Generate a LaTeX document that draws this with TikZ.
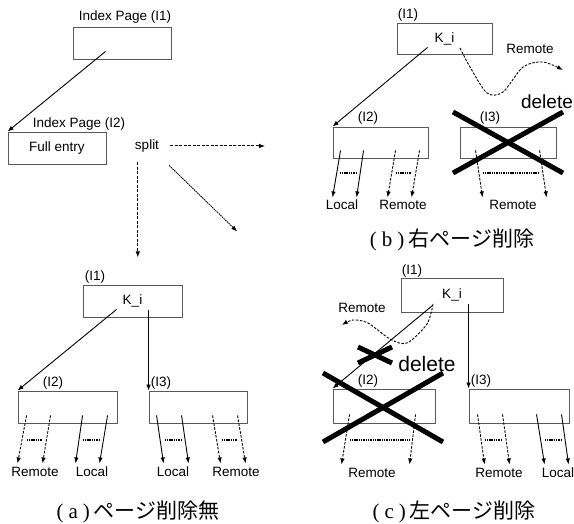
\documentclass[tikz,border=0pt]{standalone}
\usepackage{fontspec}
\setmainfont{Liberation Sans}
\newfontfamily\cjk{Noto Sans CJK JP}
\newfontfamily\capserif{Liberation Serif}
\newcommand\capltr[1]{{\capserif(\hspace{5pt}#1\hspace{5pt})}\hspace{4pt}}
\usetikzlibrary{arrows.meta}
\begin{document}
\begin{tikzpicture}[x=1pt,y=-1pt,
  page/.style={draw=black!65,line width=0.9pt,inner sep=0pt,font=\fontsize{13.5}{15}\selectfont},
  txt/.style={inner sep=0pt,font=\fontsize{13.5}{15}\selectfont},
  ptr/.style={-{Latex[length=6pt,width=4.5pt]},line width=0.9pt},
  rptr/.style={ptr,dash pattern=on 2.5pt off 1.5pt},
  sptr/.style={ptr,line width=1pt,dash pattern=on 3pt off 1.5pt},
  dots/.style={line width=2pt,dash pattern=on 1.4pt off 0.9pt},
  cross/.style={line width=5pt},
  del/.style={inner sep=0pt},
  captxt/.style={inner sep=0pt,font=\cjk\fontsize{21}{24}\selectfont}]
\useasboundingbox (0,0) rectangle (574,524);
% before the split
\node[page,minimum width=98pt,minimum height=32pt] (i1) at (122,43) {};
\node[txt] (i1lab) at (125,17) {Index Page (I1)};
\node[page,minimum width=98pt,minimum height=32pt] (i2) at (57,148) {Full entry};
\node[txt] (i2lab) at (79,124) {Index Page (I2)};
\draw[ptr] ([xshift=33pt,yshift=8pt]i1.south west) -- (i2.north west);
\node[txt] (split) at (147,146) {split};
\draw[sptr] ([xshift=11pt]split.east) -- ++(95,0);
\draw[ptr,line width=0.9pt,dash pattern=on 1.5pt off 0.8pt] ([xshift=10pt,yshift=-13pt]split.south east) -- ++(68,66);
\draw[sptr] ([xshift=3pt,yshift=-10pt]split.south west) -- ++(0,95);
% (a)
\node[page,minimum width=99pt,minimum height=32pt] (a1) at (132.5,301) {K\_i};
\node[txt] (a1lab) at (95,277) {(I1)};
\node[page,minimum width=99pt,minimum height=32pt] (a2) at (67.5,407) {};
\node[txt] (a2lab) at (53,383) {(I2)};
\node[page,minimum width=98pt,minimum height=32pt] (a3) at (198,407) {};
\node[txt] (a3lab) at (161,383) {(I3)};
\draw[ptr] ([xshift=34pt,yshift=8pt]a1.south west) -- (a2.north west);
\draw[ptr] ([xshift=66pt,yshift=7pt]a1.south west) -- (a3.north west);
\draw[rptr] ([xshift=9pt,yshift=8pt]a2.south west) -- ++(-9,48);
\draw[rptr] ([xshift=33pt,yshift=8pt]a2.south west) -- ++(-8,48);
\draw[dots] ([xshift=9pt,yshift=-17pt]a2.south west) -- ++(16,0);
\draw[ptr] ([xshift=65pt,yshift=8pt]a2.south west) -- ++(-7,48);
\draw[ptr] ([xshift=90pt,yshift=8pt]a2.south west) -- ++(-8,48);
\draw[dots] ([xshift=65pt,yshift=-17pt]a2.south west) -- ++(17,0);
\draw[ptr] ([xshift=8pt,yshift=8pt]a3.south west) -- ++(7,48);
\draw[ptr] ([xshift=33pt,yshift=8pt]a3.south west) -- ++(7,48);
\draw[dots] ([xshift=16pt,yshift=-17pt]a3.south west) -- ++(17,0);
\draw[rptr] ([xshift=64pt,yshift=8pt]a3.south west) -- ++(8,48);
\draw[rptr] ([xshift=89pt,yshift=8pt]a3.south west) -- ++(8,48);
\draw[dots] ([xshift=73pt,yshift=-17pt]a3.south west) -- ++(16,0);
\node[txt] (a2rem) at (35,472) {Remote};
\node[txt] (a2loc) at (92,472) {Local};
\node[txt] (a3loc) at (173,472) {Local};
\node[txt] (a3rem) at (236,472) {Remote};
\node[captxt] (capa) at (138,512) {\capltr{a}ページ削除無};
% (b)
\node[page,minimum width=95pt,minimum height=31pt] (b1) at (444.5,38.5) {K\_i};
\node[txt] (b1lab) at (408,15) {(I1)};
\node[page,minimum width=95pt,minimum height=31pt] (b2) at (380.5,142.5) {};
\node[txt] (b2lab) at (368,118) {(I2)};
\node[page,minimum width=96pt,minimum height=31pt] (b3) at (508,142.5) {};
\node[txt] (b3lab) at (490,118) {(I3)};
\draw[ptr] ([xshift=31pt,yshift=7pt]b1.south west) -- (b2.north west);
\draw[rptr] plot[smooth] coordinates {(460,48) (470,67) (487,93) (503,92) (523,67) (543,62) (563,70)};
\node[txt] (b1rem) at (530,49) {Remote};
\draw[ptr] ([xshift=8pt,yshift=8pt]b2.south west) -- ++(-8,47);
\draw[ptr] ([xshift=31pt,yshift=8pt]b2.south west) -- ++(-7,47);
\draw[dots] ([xshift=7pt,yshift=-15pt]b2.south west) -- ++(17,0);
\draw[rptr] ([xshift=63pt,yshift=8pt]b2.south west) -- ++(-8,47);
\draw[rptr] ([xshift=87pt,yshift=8pt]b2.south west) -- ++(-8,47);
\draw[dots] ([xshift=63pt,yshift=-15pt]b2.south west) -- ++(16,0);
\draw[rptr] ([xshift=16pt,yshift=8pt]b3.south west) -- ++(7,47);
\draw[rptr] ([xshift=80pt,yshift=8pt]b3.south west) -- ++(7,47);
\draw[dots] ([xshift=23pt,yshift=-15pt]b3.south west) -- ++(57,0);
\node[txt] (b2loc) at (342,205) {Local};
\node[txt] (b2rem) at (403,205) {Remote};
\node[txt] (b3rem) at (513,205) {Remote};
\draw[cross] (453,112) -- (563,173);
\draw[cross] (453,173) -- (563,112);
\node[del,font=\fontsize{19}{22}\selectfont] (bdel) at (547,102) {delete};
\node[captxt] (capb) at (452,240) {\capltr{b}右ページ削除};
% (c)
\node[page,minimum width=102pt,minimum height=34pt] (c1) at (452,295) {K\_i};
\node[txt] (c1lab) at (412,271) {(I1)};
\node[page,minimum width=102pt,minimum height=34pt] (c2) at (384,406) {};
\node[txt] (c2lab) at (368,381) {(I2)};
\node[page,minimum width=100pt,minimum height=34pt] (c3) at (519,406) {};
\node[txt] (c3lab) at (481,381) {(I3)};
\draw[ptr] ([xshift=32pt,yshift=7pt]c1.south west) -- (c2.north west);
\draw[ptr] ([xshift=68pt,yshift=8pt]c1.south west) -- (c3.north west);
\draw[rptr] plot[smooth] coordinates {(433,304) (427,324) (407,343) (390,339) (368,323) (353,320) (342,325)};
\node[txt] (c1rem) at (362,308) {Remote};
\draw[rptr] ([xshift=17pt,yshift=9pt]c2.south west) -- ++(-8,50);
\draw[rptr] ([xshift=83pt,yshift=9pt]c2.south west) -- ++(-6,50);
\draw[dots] ([xshift=17pt,yshift=-17pt]c2.south west) -- ++(60,0);
\draw[rptr] ([xshift=9pt,yshift=9pt]c3.south west) -- ++(7,50);
\draw[rptr] ([xshift=34pt,yshift=9pt]c3.south west) -- ++(7,50);
\draw[dots] ([xshift=16pt,yshift=-17pt]c3.south west) -- ++(18,0);
\draw[ptr] ([xshift=68pt,yshift=9pt]c3.south west) -- ++(8,50);
\draw[ptr] ([xshift=93pt,yshift=9pt]c3.south west) -- ++(7,50);
\draw[dots] ([xshift=76pt,yshift=-17pt]c3.south west) -- ++(17,0);
\node[txt] (c2rem) at (372,473) {Remote};
\node[txt] (c3rem) at (499,473) {Remote};
\node[txt] (c3loc) at (558,473) {Local};
\draw[cross] (358,347) -- (392,363);
\draw[cross] (358,363) -- (392,347);
\draw[cross] (323,373) -- (443,442);
\draw[cross] (323,442) -- (443,373);
\node[del,font=\fontsize{21}{24}\selectfont] (cdel) at (427,364) {delete};
\node[captxt] (capc) at (454,512) {\capltr{c}左ページ削除};
\end{tikzpicture}
\end{document}
